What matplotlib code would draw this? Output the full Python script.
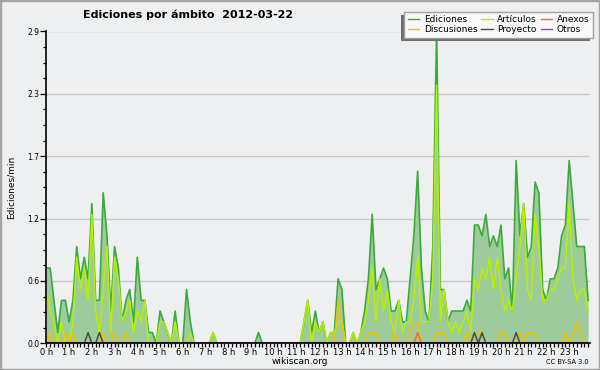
from pathlib import Path

import matplotlib

matplotlib.use("Agg")

import matplotlib.pyplot as plt
import numpy as np
from matplotlib.lines import Line2D
from matplotlib.patches import Rectangle


TITLE = "Ediciones por ámbito  2012-03-22"

HOUR_LABELS = [f"{h} h" for h in range(24)]

Y_MAX = 2.9

# edits per minute, one value per 10 minute slot, one row per hour
EDICIONES = [
    0.7, 0.7, 0.4, 0.1, 0.4, 0.4,
    0.2, 0.4, 0.9, 0.6, 0.8, 0.6,
    1.3, 0.4, 0.4, 1.4, 1.0, 0.3,
    0.9, 0.7, 0.2, 0.4, 0.5, 0.2,
    0.8, 0.4, 0.4, 0.1, 0.1, 0.0,
    0.3, 0.2, 0.1, 0.0, 0.3, 0.0,
    0.0, 0.5, 0.2, 0.0, 0.0, 0.0,
    0.0, 0.0, 0.1, 0.0, 0.0, 0.0,
    0.0, 0.0, 0.0, 0.0, 0.0, 0.0,
    0.0, 0.0, 0.1, 0.0, 0.0, 0.0,
    0.0, 0.0, 0.0, 0.0, 0.0, 0.0,
    0.0, 0.0, 0.2, 0.4, 0.1, 0.3,
    0.1, 0.2, 0.0, 0.1, 0.1, 0.6,
    0.5, 0.0, 0.0, 0.1, 0.0, 0.1,
    0.3, 0.6, 1.2, 0.5, 0.6, 0.7,
    0.6, 0.3, 0.3, 0.4, 0.2, 0.2,
    0.6, 1.0, 1.6, 0.7, 0.3, 0.2,
    0.9, 2.9, 0.5, 0.5, 0.2, 0.3,
    0.3, 0.3, 0.3, 0.4, 0.3, 1.1,
    1.1, 1.0, 1.2, 0.9, 1.0, 0.9,
    1.1, 0.6, 0.7, 0.3, 1.7, 1.0,
    1.3, 0.8, 0.9, 1.5, 1.4, 0.5,
    0.4, 0.6, 0.6, 0.7, 1.0, 1.1,
    1.7, 1.3, 0.9, 0.9, 0.9, 0.4,
]

ARTICULOS = [
    0.5, 0.3, 0.2, 0.0, 0.2, 0.0,
    0.0, 0.2, 0.8, 0.5, 0.7, 0.4,
    1.2, 0.3, 0.1, 0.5, 0.9, 0.1,
    0.8, 0.6, 0.2, 0.3, 0.4, 0.1,
    0.3, 0.2, 0.4, 0.0, 0.0, 0.0,
    0.2, 0.2, 0.1, 0.0, 0.2, 0.0,
    0.0, 0.0, 0.1, 0.0, 0.0, 0.0,
    0.0, 0.0, 0.1, 0.0, 0.0, 0.0,
    0.0, 0.0, 0.0, 0.0, 0.0, 0.0,
    0.0, 0.0, 0.0, 0.0, 0.0, 0.0,
    0.0, 0.0, 0.0, 0.0, 0.0, 0.0,
    0.0, 0.0, 0.2, 0.4, 0.0, 0.2,
    0.1, 0.2, 0.0, 0.1, 0.1, 0.2,
    0.2, 0.0, 0.0, 0.1, 0.0, 0.1,
    0.2, 0.4, 0.7, 0.2, 0.6, 0.3,
    0.5, 0.2, 0.1, 0.4, 0.1, 0.2,
    0.2, 0.4, 0.8, 0.2, 0.2, 0.2,
    0.6, 2.4, 0.2, 0.5, 0.2, 0.1,
    0.2, 0.1, 0.2, 0.3, 0.1, 0.6,
    0.5, 0.7, 0.6, 0.8, 0.5, 0.8,
    0.5, 0.3, 0.4, 0.3, 0.6, 0.9,
    1.3, 0.5, 0.4, 1.2, 0.9, 0.4,
    0.4, 0.5, 0.5, 0.6, 0.7, 0.7,
    1.3, 0.6, 0.4, 0.5, 0.5, 0.3,
]

DISCUSIONES = [
    0.0, 0.1, 0.0, 0.0, 0.0, 0.1,
    0.0, 0.1, 0.0, 0.0, 0.0, 0.0,
    0.0, 0.0, 0.0, 0.1, 0.0, 0.0,
    0.1, 0.0, 0.0, 0.1, 0.0, 0.0,
    0.0, 0.0, 0.0, 0.0, 0.0, 0.0,
    0.0, 0.0, 0.0, 0.0, 0.0, 0.0,
    0.0, 0.0, 0.0, 0.0, 0.0, 0.0,
    0.0, 0.0, 0.0, 0.0, 0.0, 0.0,
    0.0, 0.0, 0.0, 0.0, 0.0, 0.0,
    0.0, 0.0, 0.0, 0.0, 0.0, 0.0,
    0.0, 0.0, 0.0, 0.0, 0.0, 0.0,
    0.0, 0.0, 0.0, 0.0, 0.0, 0.0,
    0.0, 0.0, 0.0, 0.0, 0.0, 0.4,
    0.2, 0.0, 0.0, 0.0, 0.0, 0.0,
    0.0, 0.1, 0.1, 0.1, 0.0, 0.0,
    0.0, 0.0, 0.1, 0.0, 0.0, 0.0,
    0.1, 0.2, 0.2, 0.0, 0.0, 0.0,
    0.0, 0.1, 0.1, 0.1, 0.0, 0.0,
    0.0, 0.0, 0.0, 0.1, 0.0, 0.0,
    0.1, 0.1, 0.0, 0.0, 0.0, 0.0,
    0.1, 0.1, 0.0, 0.0, 0.0, 0.1,
    0.0, 0.1, 0.1, 0.1, 0.0, 0.0,
    0.0, 0.0, 0.0, 0.0, 0.0, 0.1,
    0.0, 0.1, 0.2, 0.1, 0.0, 0.0,
]

PROYECTO = [
    0.0, 0.0, 0.0, 0.0, 0.0, 0.0,
    0.0, 0.0, 0.0, 0.0, 0.0, 0.1,
    0.0, 0.0, 0.1, 0.0, 0.0, 0.0,
    0.0, 0.0, 0.0, 0.0, 0.0, 0.0,
    0.0, 0.0, 0.0, 0.0, 0.0, 0.0,
    0.0, 0.0, 0.0, 0.0, 0.0, 0.0,
    0.0, 0.0, 0.0, 0.0, 0.0, 0.0,
    0.0, 0.0, 0.0, 0.0, 0.0, 0.0,
    0.0, 0.0, 0.0, 0.0, 0.0, 0.0,
    0.0, 0.0, 0.0, 0.0, 0.0, 0.0,
    0.0, 0.0, 0.0, 0.0, 0.0, 0.0,
    0.0, 0.0, 0.0, 0.0, 0.0, 0.0,
    0.0, 0.0, 0.0, 0.0, 0.0, 0.0,
    0.0, 0.0, 0.0, 0.0, 0.0, 0.0,
    0.0, 0.0, 0.0, 0.0, 0.0, 0.0,
    0.0, 0.0, 0.0, 0.0, 0.0, 0.0,
    0.0, 0.0, 0.0, 0.0, 0.0, 0.0,
    0.0, 0.0, 0.0, 0.0, 0.0, 0.0,
    0.0, 0.0, 0.0, 0.0, 0.0, 0.1,
    0.0, 0.1, 0.0, 0.0, 0.0, 0.0,
    0.0, 0.0, 0.0, 0.0, 0.1, 0.0,
    0.0, 0.0, 0.0, 0.0, 0.0, 0.0,
    0.0, 0.0, 0.0, 0.0, 0.0, 0.0,
    0.0, 0.0, 0.0, 0.0, 0.0, 0.0,
]

# Anexos: only one edit, at 16:20
ANEXOS = [0.0] * 144
ANEXOS[98] = 0.1

OTROS = [0.0] * 144


COLORS = {
    "Ediciones": "#3aab3a",
    "Ediciones_fill": "#9dcb9b",
    "Artículos": "#b6f000",
    "Discusiones": "#f2c200",
    "Proyecto": "#4a4a4a",
    "Anexos": "#ff6a30",
    "Otros": "#9a3cf0",
}

BG = "#eeeff0"



def draw_chart(
    out_path: Path
) -> Path:

    fig = plt.figure(
        figsize=(6.0, 3.7),
        dpi=100,
        facecolor=BG
    )

    ax = fig.add_axes(
        [46 / 600, 1 - 343.3 / 370, 544.4 / 600, 311.8 / 370]
    )
    ax.set_facecolor(BG)

    x = np.arange(len(EDICIONES))

    ax.fill_between(
        x,
        EDICIONES,
        color=COLORS["Ediciones_fill"],
        lw=0,
        zorder=1
    )

    ax.plot(
        x,
        EDICIONES,
        color=COLORS["Ediciones"],
        lw=1.2,
        zorder=3
    )

    series = [
        ("Artículos", ARTICULOS),
        ("Discusiones", DISCUSIONES),
        ("Anexos", ANEXOS),
        ("Proyecto", PROYECTO),
        ("Otros", OTROS),
    ]

    for name, values in series:
        ax.plot(
            x,
            values,
            color=COLORS[name],
            lw=1.1,
            zorder=4
        )

    # axes, ticks, grid
    ax.set_xlim(-0.1, 143.6)
    ax.set_ylim(0, Y_MAX)

    yticks = np.linspace(0, Y_MAX, 6)
    ax.set_yticks(yticks)
    ax.set_yticklabels([f"{v:.1f}" for v in yticks])
    ax.set_yticks(np.linspace(0, Y_MAX, 21), minor=True)

    ax.set_xticks(np.arange(0, 144, 6))
    ax.set_xticklabels(HOUR_LABELS)
    ax.set_xticks(np.arange(0, 144, 1), minor=True)

    ax.tick_params(
        axis="y",
        which="major",
        length=4.3,
        width=0.9,
        pad=0.5,
        labelsize=5.5,
        colors="black"
    )
    ax.tick_params(
        axis="y",
        which="minor",
        length=2.4,
        width=0.9
    )
    ax.tick_params(
        axis="x",
        which="both",
        length=2.6,
        width=0.9,
        pad=0.8,
        labelsize=6
    )

    ax.grid(
        axis="y",
        which="major",
        color="#c8c8c8",
        lw=1.0,
        zorder=0
    )
    ax.set_axisbelow(True)

    for side in ["top", "right"]:
        ax.spines[side].set_visible(False)
    for side in ["left", "bottom"]:
        ax.spines[side].set_linewidth(1.2)
        ax.spines[side].set_zorder(10)

    ax.set_ylabel(
        "Ediciones/min",
        fontsize=6.5,
        labelpad=8
    )

    # texts around the plot
    fig.text(
        188 / 600,
        1 - 15 / 370,
        TITLE,
        ha="center",
        va="center",
        fontsize=8,
        fontweight="bold"
    )

    fig.text(
        300 / 600,
        1 - 361 / 370,
        "wikiscan.org",
        ha="center",
        va="center",
        fontsize=6.5
    )

    fig.text(
        589 / 600,
        1 - 362 / 370,
        "CC BY-SA 3.0",
        ha="right",
        va="center",
        fontsize=4.8
    )

    # legend, with a shadow to the lower left
    order = ["Ediciones", "Discusiones", "Artículos", "Proyecto", "Anexos", "Otros"]
    handles = [
        Line2D([0], [0], color=COLORS[name], lw=1.0)
        for name in order
    ]

    leg = fig.legend(
        handles,
        order,
        loc="upper left",
        bbox_to_anchor=(404 / 600, 1 - 11.5 / 370, 189 / 600, 0),
        mode="expand",
        ncol=3,
        fontsize=6.5,
        frameon=True,
        fancybox=False,
        handlelength=1.3,
        handletextpad=0.5,
        columnspacing=0.3,
        labelspacing=0.12,
        borderpad=0.4,
        borderaxespad=0
    )
    leg.set_zorder(5)
    leg.get_frame().set_facecolor("#f8f8f8")
    leg.get_frame().set_edgecolor("#a0a0a0")
    leg.get_frame().set_linewidth(1.0)
    leg.get_frame().set_alpha(1)

    fig.canvas.draw()
    box = leg.get_frame().get_window_extent()
    fig_w, fig_h = fig.bbox.width, fig.bbox.height

    fig.patches.append(
        Rectangle(
            ((box.x0 - 3) / fig_w, (box.y0 - 3) / fig_h),
            box.width / fig_w,
            box.height / fig_h,
            transform=fig.transFigure,
            facecolor="#6e6e6e",
            edgecolor="none",
            zorder=4
        )
    )

    # outer border of the picture
    fig.patches.append(
        Rectangle(
            (0, 0),
            1,
            1,
            transform=fig.transFigure,
            fill=False,
            edgecolor="#a4a4a4",
            lw=2.5,
            zorder=20
        )
    )

    fig.savefig(
        out_path,
        dpi=100,
        facecolor=BG
    )

    plt.close(fig)

    return out_path



if __name__ == "__main__":

    draw_chart(Path("out.png"))
